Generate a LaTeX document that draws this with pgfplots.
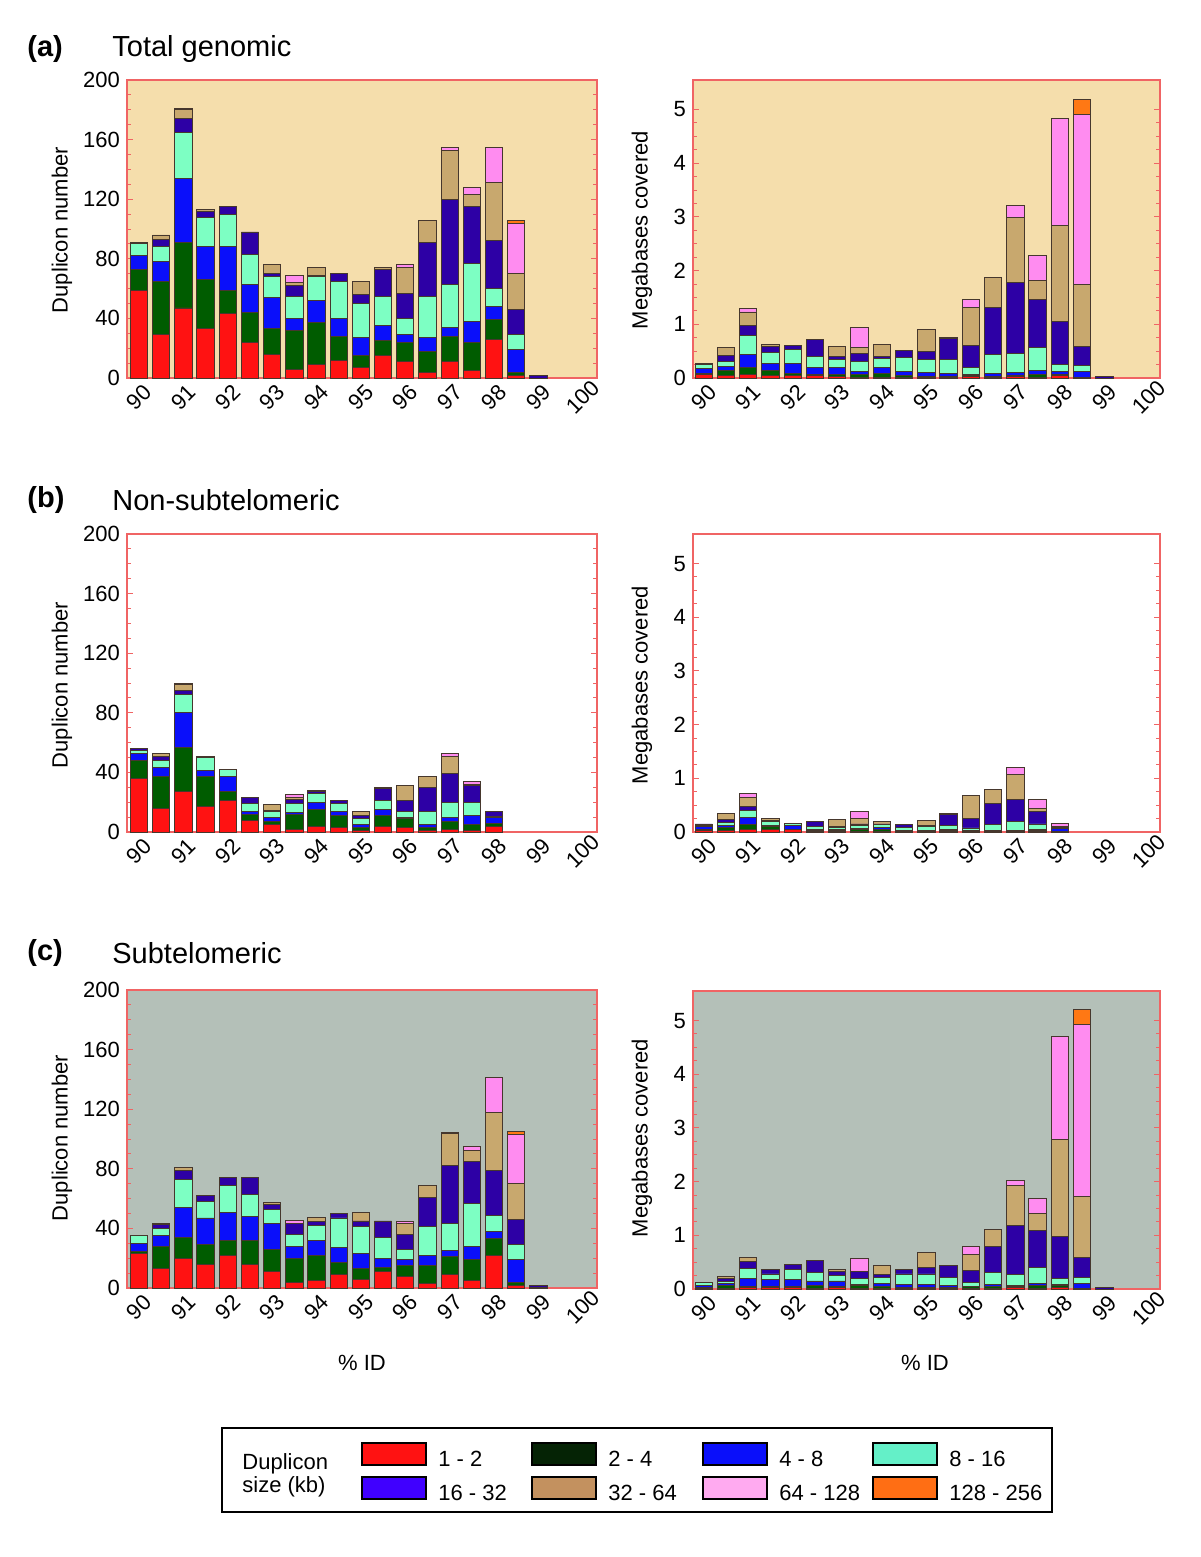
\documentclass[border=0pt]{standalone}
\usepackage{pgfplots}
\usepackage{pgfplotstable}
\pgfplotsset{compat=1.18}
\usepackage{fontspec}
\setmainfont{Liberation Sans}

\definecolor{cR}{RGB}{255,18,18}
\definecolor{cG}{RGB}{0,92,0}
\definecolor{cB}{RGB}{10,15,250}
\definecolor{cA}{RGB}{125,255,195}
\definecolor{cP}{RGB}{45,0,165}
\definecolor{cT}{RGB}{200,168,110}
\definecolor{cK}{RGB}{255,140,240}
\definecolor{cO}{RGB}{255,120,20}
\definecolor{lG}{RGB}{5,35,5}
\definecolor{lA}{RGB}{100,240,200}
\definecolor{lP}{RGB}{64,0,255}
\definecolor{lT}{RGB}{195,145,95}
\definecolor{lK}{RGB}{255,170,240}
\definecolor{lO}{RGB}{255,110,20}
\definecolor{edge}{RGB}{70,55,45}
\definecolor{axred}{RGB}{240,100,100}
\definecolor{bgA}{RGB}{245,222,172}
\definecolor{bgC}{RGB}{180,192,184}

% Panel (a) left: duplicon number
\pgfplotstableread{
x r g b a p t k o
90 59 14 9 8 1 0 0 0
90.5 29 36 13 10 5 3 0 0
91 47 44 43 31 9 6 1 0
91.5 33 33 22 20 4 1 0 0
92 43 16 29 22 5 0 0 0
92.5 24 20 19 20 15 0 0 0
93 16 17 21 14 2 6 0 0
93.5 6 26 8 15 7 2 5 0
94 9 28 15 16 1 5 0 0
94.5 12 16 12 25 5 0 0 0
95 7 8 12 23 6 9 0 0
95.5 15 10 10 20 18 1 0 0
96 11 13 5 11 17 17 2 0
96.5 4 14 9 28 36 15 0 0
97 11 17 6 29 57 33 2 0
97.5 5 19 14 39 38 8 5 0
98 26 13 9 12 32 39 24 0
98.5 2 2 15 10 17 24 34 2
99 0 0 0 0 1.5 0 0 0
}\tabAL
% Panel (a) right: megabases
\pgfplotstableread{
x r g b a p t k o
90 .06 .03 .08 .08 .02 0 0 0
90.5 .04 .10 .08 .08 .12 .14 0 0
91 .07 .12 .25 .35 .19 .25 .06 0
91.5 .04 .10 .13 .21 .10 .04 0 0
92 .05 .03 .19 .26 .08 0 0 0
92.5 .04 .03 .12 .21 .31 0 0 0
93 .02 .04 .13 .16 .05 .19 0 0
93.5 .01 .06 .06 .17 .16 .11 .37 0
94 .01 .07 .11 .18 .03 .23 0 0
94.5 .01 .04 .08 .25 .13 0 0 0
95 .01 .01 .09 .24 .15 .40 0 0
95.5 .01 .01 .07 .25 .39 .03 0 0
96 .02 .02 .03 .13 .41 .70 .15 0
96.5 .01 .02 .06 .34 .88 .56 0 0
97 .02 .03 .06 .34 1.33 1.21 .22 0
97.5 .01 .06 .07 .42 .90 .36 .46 0
98 .04 .03 .05 .13 .80 1.79 1.99 0
98.5 .005 .01 .10 .11 .37 1.14 3.18 .27
99 0 0 0 0 .03 0 0 0
}\tabAR
% Panel (b) left
\pgfplotstableread{
x r g b a p t k o
90 36 12 5 2 1 0 0 0
90.5 16 21 6 5 3 2 0 0
91 27 30 23 12 3 4 0.5 0
91.5 17 20 4 9 1 0 0 0
92 21 6 10 5 0 0 0 0
92.5 8 4 2 5 4 0 0 0
93 5 2 3 4 0.5 4 0 0
93.5 2 10 1 6 3 1 2 0
94 4 11 5 6 1 1 0 0
94.5 3 8 3 5 2 0 0 0
95 1 2 2 4 2 3 0 0
95.5 4 7 4 6 8 1 0 0
96 3 6 1 4 7 10 0 0
96.5 1 2 2 9 16 7 0 0
97 2 5 3 10 19 12 2 0
97.5 1 4 6 9 11 1 2 0
98 4 1.5 4 1 3 0 0 0
}\tabBL
% Panel (b) right
\pgfplotstableread{
x r g b a p t k o
90 .03 .02 .05 .02 .03 0 0 0
90.5 .03 .06 .03 .05 .07 .10 0 0
91 .04 .10 .13 .13 .08 .17 .07 0
91.5 .04 .06 .02 .08 .02 .04 0 0
92 .04 .01 .07 .04 0 0 0 0
92.5 .01 .01 .02 .06 .10 0 0 0
93 .01 .01 .02 .05 .01 .14 0 0
93.5 .01 .03 .02 .07 .02 .10 .14 0
94 .01 .04 .04 .05 .01 .04 0 0
94.5 .01 .01 .01 .06 .05 0 0 0
95 .005 .01 .01 .08 .01 .10 0 0
95.5 .01 .01 .02 .08 .21 .01 0 0
96 .005 .01 .01 .05 .18 .42 0 0
96.5 .005 .01 .01 .12 .38 .27 0 0
97 .01 .01 .01 .16 .42 .46 .13 0
97.5 .01 .02 .01 .11 .24 .04 .17 0
98 .005 .005 .06 .01 .02 0 .06 0
}\tabBR
% Panel (c) left
\pgfplotstableread{
x r g b a p t k o
90 23 1.5 5.5 5 0 0 0 0
90.5 13 15 7 5 2.6 0.7 0 0
91 20 14 20 19 6 2 0 0
91.5 16 13 18 11 4 0 0 0
92 22 10 19 18 5 0 0 0
92.5 16 16 16 15 11 0 0 0
93 11 15 17 10 3 1.3 0 0
93.5 4 16 8 8 7 0.5 2 0
94 5 17 10 10 2.5 3 0 0
94.5 9 8 10 20 3 0 0 0
95 6 7 10 18 4 6 0 0
95.5 11 3 6 14 11 0 0 0
96 8 7 4 7 10 7 2 0
96.5 3 12 7 19 20 8 0 0
97 9 12 4 18 39 22 0.5 0
97.5 5 14 9 29 28 7 3 0
98 22 11 5 11 30 39 23 0
98.5 2 2 15 10 17 24 33 2
99 0.5 0 0 0 1 0 0 0
}\tabCL
% Panel (c) right
\pgfplotstableread{
x r g b a p t k o
90 .01 .01 .04 .06 0 0 0 0
90.5 .01 .05 .04 .04 .06 .03 0 0
91 .02 .03 .14 .19 .13 .08 0 0
91.5 .02 .03 .12 .11 .09 0 0 0
92 .02 .03 .12 .19 .10 0 0 0
92.5 .01 .05 .09 .16 .23 0 0 0
93 .02 .03 .10 .10 .07 .05 0 0
93.5 .01 .05 .03 .11 .13 0 .23 0
94 .01 .04 .06 .10 .06 .17 0 0
94.5 .01 .01 .07 .19 .09 0 0 0
95 .01 .01 .07 .19 .12 .28 0 0
95.5 .01 .01 .04 .16 .22 0 0 0
96 .01 .03 .01 .07 .23 .30 .14 0
96.5 .01 .03 .04 .23 .49 .31 0 0
97 .02 .03 .02 .20 .91 .75 .10 0
97.5 .01 .06 .03 .31 .68 .32 .28 0
98 .02 .04 .03 .11 .78 1.80 1.93 0
98.5 .005 .01 .08 .12 .37 1.14 3.21 .28
99 0 0 0 0 .02 0 0 0
}\tabCR

\newcommand{\stackbars}[1]{%
  \addplot[fill=cR,draw=edge] table[x=x,y=r]{#1};
  \addplot[fill=cG,draw=edge] table[x=x,y=g]{#1};
  \addplot[fill=cB,draw=edge] table[x=x,y=b]{#1};
  \addplot[fill=cA,draw=edge] table[x=x,y=a]{#1};
  \addplot[fill=cP,draw=edge] table[x=x,y=p]{#1};
  \addplot[fill=cT,draw=edge] table[x=x,y=t]{#1};
  \addplot[fill=cK,draw=edge] table[x=x,y=k]{#1};
  \addplot[fill=cO,draw=edge] table[x=x,y=o]{#1};
}

\pgfplotsset{
  panel/.style={
    scale only axis, height=149pt,
    ybar stacked, bar width=0.39,
    every axis plot/.append style={line width=0.45pt},
    axis line style={draw=axred, line width=0.6pt},
    xtick={90,...,100},
    xtick style={draw=none},
    xticklabel style={yshift=-9.5pt, rotate=45, anchor=center},
    ytick style={draw=axred, line width=0.5pt},
    tick align=inside,
    major tick length=3pt, minor tick length=2pt,
    minor y tick num=3,
    ymin=0,
    tick label style={font=\fontsize{11}{13}\selectfont, text=black},
    /pgf/number format/assume math mode=true,
  },
  leftp/.style={panel, width=235pt, xmin=89.73, xmax=100.32, ymax=200, ytick={0,40,...,200}},
  rightp/.style={panel, width=233.5pt, xmin=89.76, xmax=100.25, ymax=5.55, ytick={0,1,...,5}},
}

\begin{document}
\begin{tikzpicture}
\path[use as bounding box] (0,0) rectangle (600pt,-778.5pt);

% ---------------- (a)
\begin{axis}[leftp, at={(63.5pt,-189pt)}, anchor=south west, axis background/.style={fill=bgA}]
\stackbars{\tabAL}
\end{axis}
\begin{axis}[rightp, at={(346.5pt,-189pt)}, anchor=south west, axis background/.style={fill=bgA}]
\stackbars{\tabAR}
\end{axis}
% ---------------- (b)
\begin{axis}[leftp, at={(63.5pt,-416pt)}, anchor=south west]
\stackbars{\tabBL}
\end{axis}
\begin{axis}[rightp, at={(346.5pt,-416pt)}, anchor=south west]
\stackbars{\tabBR}
\end{axis}
% ---------------- (c)
\begin{axis}[leftp, at={(63.5pt,-644pt)}, anchor=south west, axis background/.style={fill=bgC}]
\stackbars{\tabCL}
\end{axis}
\begin{axis}[rightp, at={(346.5pt,-644.5pt)}, anchor=south west, axis background/.style={fill=bgC}]
\stackbars{\tabCR}
\end{axis}

% titles
\foreach \lab/\ttl/\yy in {(a)/Total genomic/-24.5pt, (b)/Non-subtelomeric/-250pt, (c)/Subtelomeric/-476.5pt}{
  \node[anchor=west, inner sep=0pt, font=\fontsize{14.5}{16}\selectfont\bfseries] at (13.5pt,\yy) {\lab};
  \node[anchor=west, inner sep=0pt, font=\fontsize{14.5}{16}\selectfont] at (56pt,\yy) {\ttl};
}
% y labels
\foreach \yy in {-115pt,-342.5pt,-569pt}{
  \node[rotate=90, inner sep=0pt, font=\fontsize{11}{13}\selectfont] at (31pt,\yy) {Duplicon number};
  \node[rotate=90, inner sep=0pt, font=\fontsize{11}{13}\selectfont] at (321pt,\yy) {Megabases covered};
}
% x labels
\node[inner sep=0pt, font=\fontsize{11}{13}\selectfont] at (181pt,-681.5pt) {\% ID};
\node[inner sep=0pt, font=\fontsize{11}{13}\selectfont] at (462.5pt,-681.5pt) {\% ID};

% legend
\draw[line width=1pt] (111pt,-714pt) rectangle (526pt,-756pt);
\node[anchor=west, align=left, inner sep=0pt, font=\fontsize{11}{11.5}\selectfont] at (121pt,-737.5pt) {Duplicon\\size (kb)};
\def\swatch#1#2#3#4{%
  \draw[fill=#3, line width=0.8pt] (#1,#2+5.5pt) rectangle ++(32pt,-11pt);
  \node[anchor=west, inner sep=0pt, font=\fontsize{11}{13}\selectfont] at ([xshift=38pt,yshift=-2.5pt]#1,#2) {#4};
}
\swatch{181pt}{-727pt}{cR}{1 - 2}
\swatch{266pt}{-727pt}{lG}{2 - 4}
\swatch{351.5pt}{-727pt}{cB}{4 - 8}
\swatch{436.5pt}{-727pt}{lA}{8 - 16}
\swatch{181pt}{-744pt}{lP}{16 - 32}
\swatch{266pt}{-744pt}{lT}{32 - 64}
\swatch{351.5pt}{-744pt}{lK}{64 - 128}
\swatch{436.5pt}{-744pt}{lO}{128 - 256}
\end{tikzpicture}
\end{document}
